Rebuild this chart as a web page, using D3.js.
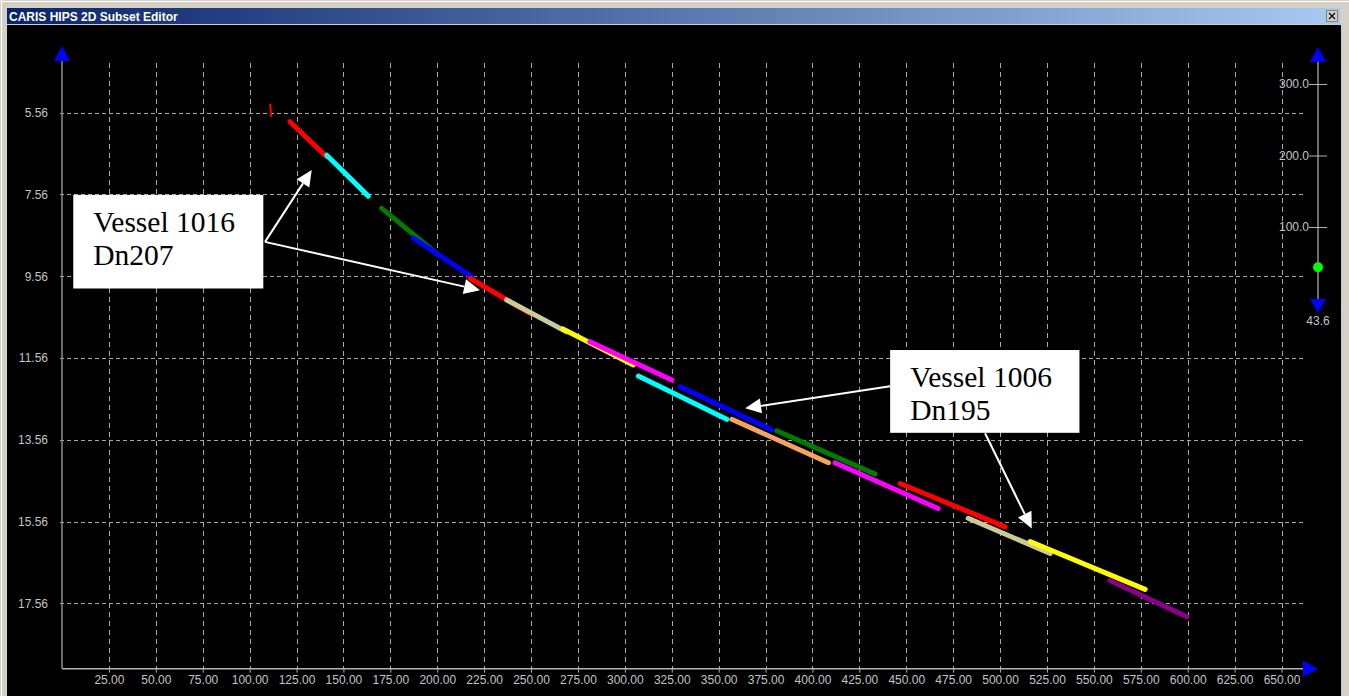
<!DOCTYPE html>
<html>
<head>
<meta charset="utf-8">
<script src="https://cdn.jsdelivr.net/npm/d3@7"></script>
<style>
  html, body { margin: 0; padding: 0; background: #d4d0c8; overflow: hidden; }
  svg { display: block; }
  .tick text { font-family: "Liberation Sans", Arial, sans-serif; font-size: 12px; fill: #c4c4c4; }
  .note text { font-family: "Liberation Serif", "Times New Roman", serif; font-size: 29.5px; fill: #000; }
</style>
</head>
<body>
<svg id="chart" width="1349" height="696"></svg>
<script>
// ---- data ----
// each swath line: along-track distance (start, end) and depth (start, end)
const lineNames = ['r0', 'r1', 'c1', 'g1', 'b1', 'r2', 't1', 'y1', 'm1',
                   'c2', 'b2', 'o1', 'g2', 'm2', 'r3', 't2', 'y2', 'p1'];
const lineDistance = [
  [111.0, 111.4], [121.5, 141.1], [141.1, 163.3], [170.4, 199.7], [187.3, 218.4],
  [217.5, 249.5], [237.0, 269.0], [267.0, 304.6], [281.4, 325.0], [307.2, 354.3],
  [329.4, 378.3], [357.0, 408.5], [381.0, 433.4], [412.0, 467.0], [446.7, 502.7],
  [483.0, 526.7], [516.0, 577.3], [558.6, 599.5]
];
const lineDepth = [
  [5.36, 5.64], [5.78, 6.64], [6.60, 7.60], [7.90, 9.00], [8.63, 9.57],
  [9.61, 10.47], [10.14, 10.92], [10.85, 11.73], [11.16, 12.10], [12.00, 13.06],
  [12.26, 13.32], [13.06, 14.12], [13.34, 14.40], [14.12, 15.24], [14.63, 15.69],
  [15.48, 16.34], [16.05, 17.22], [17.00, 17.89]
];
const lineColors = ['#ff0000', '#ff0000', '#00ffff', '#007a00', '#0000ff', '#ff0000',
                    '#cbcb98', '#ffff00', '#ff00ff', '#00ffff', '#0000ff', '#f4a460',
                    '#007a00', '#ff00ff', '#ff0000', '#cbcb98', '#ffff00', '#8b008b'];

const xTicks = d3.range(25, 651, 25);
const yTicks = [5.56, 7.56, 9.56, 11.56, 13.56, 15.56, 17.56];
const sliderTicks = [100, 200, 300];
const sliderValue = 43.6;

// callouts: box corners, text lines, and arrows (from -> to) in data units
const notes = [
  { box: [6.0, 7.57, 107.3, 9.86], lines: ['Vessel 1016', 'Dn207'],
    arrows: [[108.2, 8.72, 133.1, 6.96], [108.2, 8.72, 222.8, 9.90]] },
  { box: [441.4, 11.365, 542.3, 13.39], lines: ['Vessel 1006', 'Dn195'],
    arrows: [[441.4, 12.25, 364.1, 12.79], [492.0, 13.40, 516.9, 15.73]] }
];

const W = 1349, H = 696;
const svg = d3.select('#chart');

// ---- window chrome ----
svg.append('rect').attr('width', W).attr('height', H).attr('fill', '#d4d0c8');
svg.append('line').attr('x1', 0).attr('x2', W).attr('y1', 1.5).attr('y2', 1.5).attr('stroke', '#fff');
svg.append('line').attr('x1', 1.5).attr('x2', 1.5).attr('y1', 0).attr('y2', H).attr('stroke', '#fff');
const grad = svg.append('defs').append('linearGradient').attr('id', 'titleGrad');
grad.append('stop').attr('offset', '0%').attr('stop-color', '#0a246a');
grad.append('stop').attr('offset', '100%').attr('stop-color', '#a6caf0');
svg.append('rect').attr('x', 7).attr('y', 8).attr('width', 1333).attr('height', 16).attr('fill', 'url(#titleGrad)');
svg.append('text').attr('x', 9).attr('y', 20.5)
  .attr('font-family', 'Liberation Sans, Arial, sans-serif').attr('font-weight', 'bold')
  .attr('font-size', 12).attr('fill', '#fff').text('CARIS HIPS 2D Subset Editor');
// close button
svg.append('rect').attr('x', 1326.5).attr('y', 10.5).attr('width', 11).attr('height', 11)
  .attr('fill', '#d4d0c8').attr('stroke', '#808080');
svg.append('path').attr('d', 'M1329,13 L1335,19 M1335,13 L1329,19').attr('stroke', '#000').attr('stroke-width', 1.2);
// client area
svg.append('rect').attr('x', 7).attr('y', 25).attr('width', 1334).attr('height', 671).attr('fill', '#000');

// ---- scales ----
const x = d3.scaleLinear().domain([0, 650]).range([62, 1281.5]);
const y = d3.scaleLinear().domain([5.56, 17.56]).range([112.7, 603.3]);
const axisY = 668.7;   // pixel row of the distance axis
const axisX = x(0);

// ---- grid ----
const grid = svg.append('g').attr('stroke', '#a8a8a8').attr('stroke-width', 1);
grid.selectAll('line.v').data(xTicks).join('line').attr('class', 'v')
  .attr('x1', d => Math.round(x(d)) + 0.5).attr('x2', d => Math.round(x(d)) + 0.5)
  .attr('y1', 63).attr('y2', axisY).attr('stroke-dasharray', '5,4');
grid.selectAll('line.h').data(yTicks).join('line').attr('class', 'h')
  .attr('x1', axisX - 2).attr('x2', 1303)
  .attr('y1', d => Math.round(y(d)) + 0.5).attr('y2', d => Math.round(y(d)) + 0.5)
  .attr('stroke-dasharray', '4,3');

// ---- axes ----
const xAxis = svg.append('g').attr('transform', `translate(0,${axisY})`)
  .call(d3.axisBottom(x).tickValues(xTicks).tickFormat(d3.format('.2f')).tickSize(4).tickPadding(3));
xAxis.select('.domain').remove();
xAxis.selectAll('.tick line').attr('stroke', '#a8a8a8');

const yAxis = svg.append('g').attr('transform', `translate(${axisX},0)`)
  .call(d3.axisLeft(y).tickValues(yTicks).tickFormat(d3.format('.2f')).tickSize(0).tickPadding(14));
yAxis.select('.domain').remove();

// axis lines with blue arrow heads
svg.append('line').attr('x1', axisX).attr('x2', 1303).attr('y1', axisY).attr('y2', axisY)
  .attr('stroke', '#b4b4b4').attr('stroke-width', 1.5);
svg.append('line').attr('x1', axisX).attr('x2', axisX).attr('y1', axisY).attr('y2', 60)
  .attr('stroke', '#8c8c8c').attr('stroke-width', 1.5);
svg.append('path').attr('fill', '#0000ff')
  .attr('d', `M${axisX},46 L${axisX + 8},61 L${axisX - 8},61 Z`);
svg.append('path').attr('fill', '#0000ff')
  .attr('d', `M1318,${axisY} L1303,${axisY - 8} L1303,${axisY + 8} Z`);

// ---- swath lines ----
const swaths = lineNames.map((name, i) => ({
  name,
  color: lineColors[i],
  pts: lineDistance[i].map((dist, j) => [dist, lineDepth[i][j]])
}));
const line = d3.line().x(d => x(d[0])).y(d => y(d[1]));
svg.append('g').selectAll('path').data(swaths).join('path')
  .attr('d', d => line(d.pts))
  .attr('fill', 'none')
  .attr('stroke', d => d.color)
  .attr('stroke-width', d => d.name === 'r0' ? 2 : 5)
  .attr('stroke-linecap', 'round');

// ---- depth slider on the right ----
const s = d3.scaleLinear().domain([0, 300]).range([298.5, 84]);
const sx = 1318;
svg.append('line').attr('x1', sx).attr('x2', sx).attr('y1', 60).attr('y2', 300)
  .attr('stroke', '#909090').attr('stroke-width', 1.5);
const sAxis = svg.append('g').attr('transform', `translate(${sx + 9},0)`)
  .call(d3.axisLeft(s).tickValues(sliderTicks).tickFormat(d3.format('.1f')).tickSize(18).tickPadding(0));
sAxis.select('.domain').remove();
sAxis.selectAll('.tick line').attr('stroke', '#b0b0b0');
svg.append('path').attr('fill', '#0000ff').attr('d', `M${sx},47 L${sx + 8},62 L${sx - 8},62 Z`);
svg.append('path').attr('fill', '#0000ff').attr('d', `M${sx},313 L${sx + 8},299 L${sx - 8},299 Z`);
svg.append('circle').attr('cx', sx).attr('cy', s(sliderValue)).attr('r', 5).attr('fill', '#00ff00');
svg.append('text').attr('x', sx).attr('y', 325).attr('text-anchor', 'middle')
  .attr('font-family', 'Liberation Sans, Arial, sans-serif').attr('font-size', 12).attr('fill', '#c4c4c4')
  .text(d3.format('.1f')(sliderValue));

// ---- callouts ----
function arrow(g, a) {
  const x1 = x(a[0]), y1 = y(a[1]), x2 = x(a[2]), y2 = y(a[3]);
  const ang = Math.atan2(y2 - y1, x2 - x1);
  const len = 16, half = 7.5;
  const bx = x2 - len * Math.cos(ang), by = y2 - len * Math.sin(ang);
  g.append('line').attr('x1', x1).attr('y1', y1).attr('x2', bx).attr('y2', by)
    .attr('stroke', '#fff').attr('stroke-width', 2);
  g.append('path').attr('fill', '#fff').attr('d',
    `M${x2},${y2} L${bx - half * Math.sin(ang)},${by + half * Math.cos(ang)} ` +
    `L${bx + half * Math.sin(ang)},${by - half * Math.cos(ang)} Z`);
}

notes.forEach(n => {
  const g = svg.append('g').attr('class', 'note');
  n.arrows.forEach(a => arrow(g, a));
  const bx0 = x(n.box[0]), by0 = y(n.box[1]), bx1 = x(n.box[2]), by1 = y(n.box[3]);
  g.append('rect').attr('x', bx0).attr('y', by0).attr('width', bx1 - bx0).attr('height', by1 - by0)
    .attr('fill', '#fff');
  g.selectAll('text').data(n.lines).join('text')
    .attr('x', bx0 + 20).attr('y', (d, i) => by0 + 37 + i * 33)
    .text(d => d);
});
</script>
</body>
</html>
